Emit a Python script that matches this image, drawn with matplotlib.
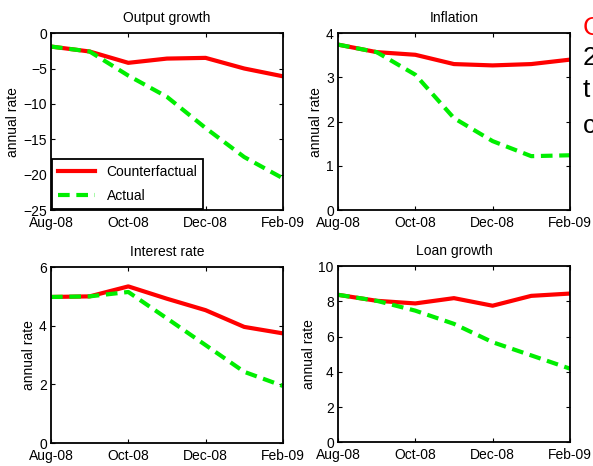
import numpy as np
import matplotlib.pyplot as plt

months = ['Aug-08', 'Sep-08', 'Oct-08', 'Nov-08', 'Dec-08', 'Jan-09', 'Feb-09']
tick_idx = [0, 2, 4, 6]

titles = ['Output growth', 'Inflation', 'Interest rate', 'Loan growth']
ylims = [(-25, 0), (0, 4), (0, 6), (0, 10)]
yticks = [[-25, -20, -15, -10, -5, 0], [0, 1, 2, 3, 4], [0, 2, 4, 6], [0, 2, 4, 6, 8, 10]]

output_cf = [-1.9, -2.6, -4.2, -3.6, -3.5, -5.0, -6.1]
output_act = [-1.9, -2.6, -6.0, -9.0, -13.4, -17.5, -20.5]
infl_cf = [3.74, 3.57, 3.51, 3.30, 3.27, 3.30, 3.40]
infl_act = [3.74, 3.57, 3.06, 2.08, 1.56, 1.22, 1.24]
rate_cf = [4.98, 5.00, 5.34, 4.92, 4.53, 3.96, 3.74]
rate_act = [4.98, 5.00, 5.15, 4.25, 3.34, 2.43, 1.95]
loan_cf = [8.37, 8.03, 7.88, 8.18, 7.75, 8.31, 8.44]
loan_act = [8.37, 8.03, 7.47, 6.72, 5.68, 4.93, 4.18]

cf = [output_cf, infl_cf, rate_cf, loan_cf]
act = [output_act, infl_act, rate_act, loan_act]

plt.rcParams['font.family'] = ['Liberation Sans Narrow', 'Liberation Sans', 'DejaVu Sans']

fig = plt.figure(figsize=(5.93, 4.66), dpi=100)
pos = [[0.086, 0.549, 0.391, 0.380],
       [0.570, 0.549, 0.391, 0.380],
       [0.086, 0.049, 0.391, 0.378],
       [0.570, 0.051, 0.391, 0.378]]

x = np.arange(len(months))
for i in range(4):
    ax = fig.add_axes(pos[i])
    ax.plot(x, cf[i], color='#ff0000', lw=3, label='Counterfactual')
    ax.plot(x, act[i], color='#00ee00', lw=3, ls=(0, (2.8, 1.6)), label='Actual')
    ax.set_xlim(0, 6)
    ax.set_ylim(*ylims[i])
    ax.set_yticks(yticks[i])
    ax.set_xticks(tick_idx)
    ax.set_xticklabels([months[k] for k in tick_idx])
    ax.set_title(titles[i], fontsize=10, pad=8)
    ax.set_ylabel('annual rate', fontsize=10, labelpad=2)
    ax.tick_params(direction='in', top=True, right=True, labelsize=10, length=3, pad=3)
    ax.tick_params(axis='x', pad=4)
    for s in ax.spines.values():
        s.set_linewidth(1.3)
    if i == 0:
        leg = ax.legend(loc='lower left', fontsize=10, handlelength=2.7, borderaxespad=0.1,
                        labelspacing=0.75, fancybox=False, framealpha=1, edgecolor='black')
        leg.get_frame().set_linewidth(1.3)

side = [('C', 'red', 0.925), ('2', 'black', 0.861), ('t', 'black', 0.792), ('c', 'black', 0.715)]
for s, c, yy in side:
    fig.text(0.983, yy, s, color=c, fontsize=19, va='baseline', ha='left')

fig.savefig('out.png', dpi=100)
